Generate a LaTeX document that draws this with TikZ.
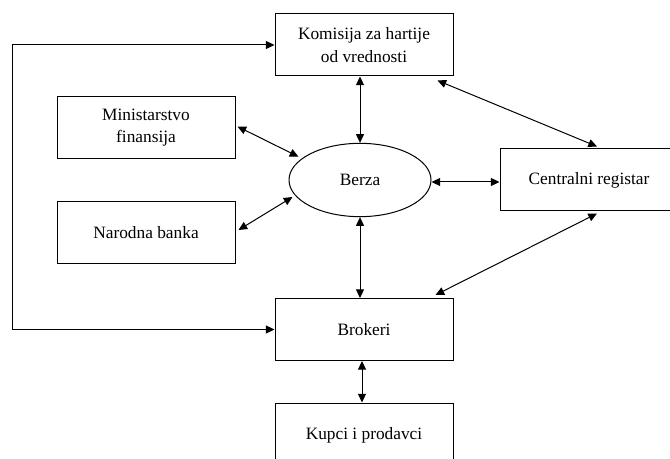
\documentclass[tikz,border=0pt]{standalone}
\usepackage{fontspec}
\setmainfont{Liberation Serif}
\usepackage{tikz}
\usetikzlibrary{arrows.meta,shapes.geometric,calc}
\tikzset{
  blok/.style ={draw,line width=0.75pt,minimum width=133.5pt,minimum height=46.5pt,inner sep=0pt,align=center,font=\rmfamily\fontsize{13}{17}\selectfont},
  oval/.style ={ellipse,draw,line width=0.75pt,minimum width=106.5pt,minimum height=55pt,inner sep=0pt,font=\rmfamily\fontsize{13}{17}\selectfont},
  ar/.style   ={{Triangle[length=6.5pt,width=6pt]}-{Triangle[length=6.5pt,width=6pt]},line width=0.75pt},
}
\begin{document}
\begin{tikzpicture}[x=0.75pt,y=-0.75pt]
  \useasboundingbox (0,0) rectangle (670,459);
  \node[blok] (kom) at (364,45){Komisija za hartije\\od vrednosti};
  \node[blok] (min) at (146,127.5){Ministarstvo\\finansija};
  \node[blok] (nar) at (146,233){Narodna banka};
  \node[oval] (berza) at (360,180){Berza};
  \node[blok] (cr) at (589,180){Centralni registar};
  \node[blok] (brok) at (364,329.5){Brokeri};
  \node[blok,minimum height=48pt] (kup) at (364,435){Kupci i prodavci};
  \draw[ar] (berza.north) -- (berza.north |- kom.south);
  \draw[ar] (berza.south) -- (berza.south |- brok.north);
  \draw[ar] ($(brok.south)+(-2,0)$) -- ($(kup.north)+(-2,0)$);
  \draw[ar] ($(min.east)+(2,-1)$) -- ($(berza.160)+(-3,-2)$);
  \draw[ar] ($(nar.east)+(3,-3)$) -- ($(berza.195)+(-4,0)$);
  \draw[ar] ($(berza.east)+(0,2)$) -- ($(cr.west)+(0,2)$);
  \draw[ar] ($(kom.south east)+(-16,4)$) -- ($(cr.north)+(8,-2)$);
  \draw[ar] ($(brok.north east)+(-18,-3)$) -- ($(cr.south)+(8,2)$);
  \draw[ar] (kom.west) -| ($(brok.west)+(-262,0)$) -- (brok.west);
\end{tikzpicture}
\end{document}
